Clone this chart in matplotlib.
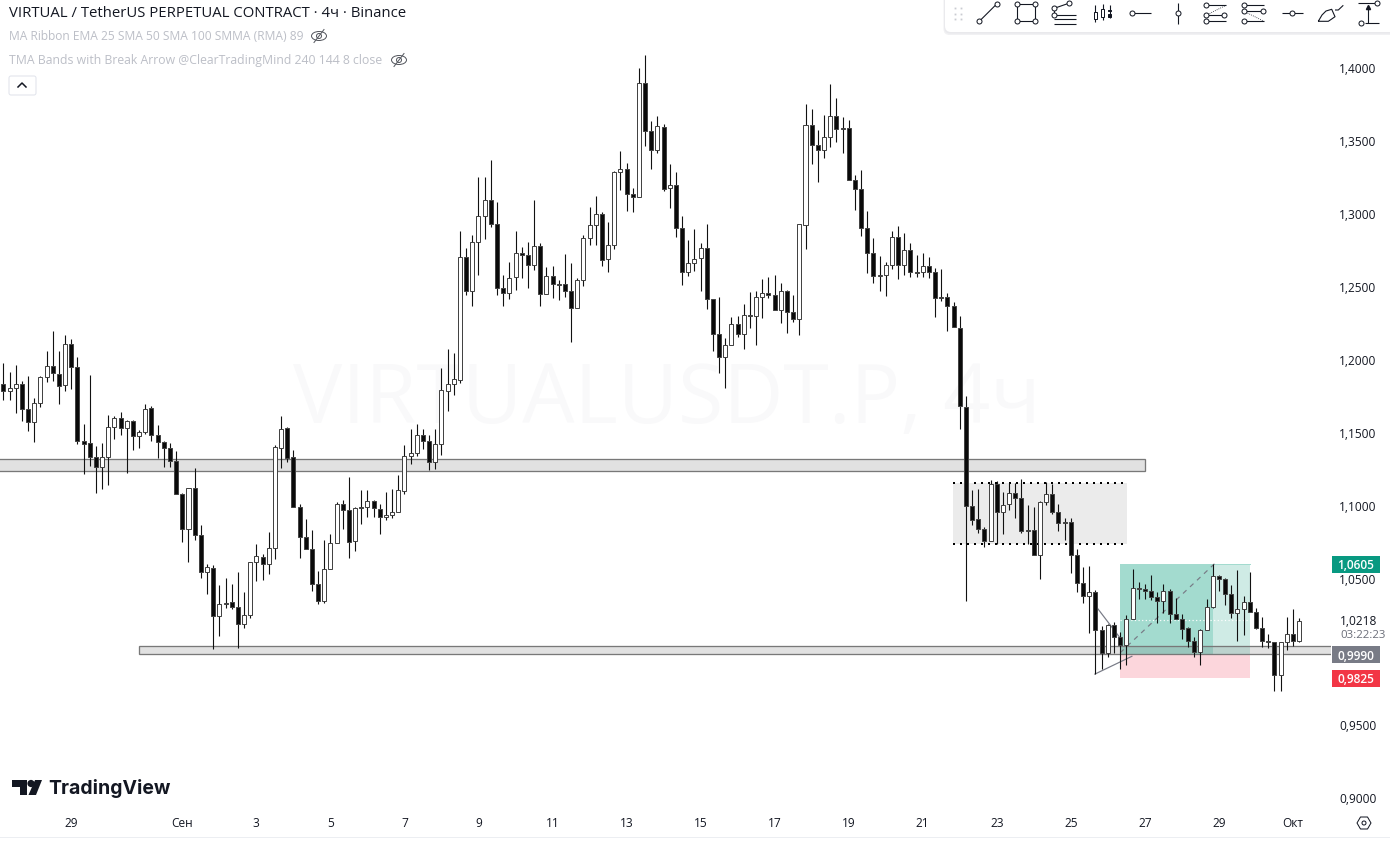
import matplotlib
matplotlib.use("Agg")
import matplotlib.pyplot as plt
from matplotlib.patches import Rectangle, FancyBboxPatch, Polygon, Circle, Ellipse
from matplotlib.transforms import blended_transform_factory

plt.rcParams['font.family'] = ['Open Sans', 'DejaVu Sans']

# ---- candle data (4h bars) ----
highs = [1.1979,1.1918,1.1966,1.1856,1.1890,1.1740,1.1890,1.2062,1.2199,1.2062,1.2171,1.2144,1.2021,1.1562,1.1897,1.1411,1.1432,1.1623,1.1616,1.1644,
 1.1589,1.1589,1.1521,1.1699,1.1685,1.1555,1.1445,1.1432,1.1377,1.1089,1.1123,1.1260,1.0870,1.0603,1.0596,1.0459,1.0507,1.0466,1.0548,1.0411,
 1.0616,1.0740,1.0671,1.0822,1.1418,1.1616,1.1541,1.1384,1.1014,1.0911,1.0836,1.0555,1.0767,1.0808,1.1027,1.1041,1.1199,1.0993,1.1110,1.1110,
 1.1041,1.1014,1.1096,1.1116,1.1212,1.1418,1.1527,1.1562,1.1527,1.1486,1.1527,1.1945,1.2075,1.2048,1.2884,1.2767,1.2856,1.3253,1.3253,1.3370,
 1.3082,1.2582,1.2671,1.2884,1.2774,1.2808,1.3096,1.2801,1.2637,1.2644,1.2548,1.2726,1.2664,1.2562,1.2856,1.3048,1.3123,1.3014,1.2945,1.3295,
 1.3432,1.3349,1.3178,1.4000,1.4089,1.3637,1.3671,1.3616,1.3342,1.3288,1.2986,1.2822,1.2897,1.2801,1.2932,1.2418,1.2432,1.2151,1.2295,1.2301,
 1.2384,1.2466,1.2473,1.2555,1.2568,1.2582,1.2527,1.2479,1.2445,1.2932,1.3753,1.3719,1.3575,1.3678,1.3890,1.3795,1.3664,1.3644,1.3267,1.3301,
 1.3021,1.2836,1.2712,1.2671,1.2884,1.2918,1.2870,1.2801,1.2719,1.2733,1.2705,1.2630,1.2623,1.2459,1.2397,1.2301,1.1753,1.1110,1.1116,1.0856,
 1.1178,1.1171,1.1096,1.1158,1.1158,1.1185,1.1007,1.0993,1.1034,1.1164,1.1151,1.1014,1.0918,1.0918,1.0705,1.0582,1.0589,1.0425,1.0178,1.0192,
 1.0205,1.0137,1.0253,1.0568,1.0479,1.0466,1.0527,1.0411,1.0466,1.0432,1.0370,1.0260,1.0171,1.0103,1.0158,1.0363,1.0603,1.0527,1.0507,1.0459,
 1.0562,1.0384,1.0548,1.0301,1.0240,1.0123,1.0068,1.0068,1.0240,1.0295,1.0233]
lows = [1.1726,1.1726,1.1637,1.1582,1.1514,1.1438,1.1678,1.1849,1.1856,1.1699,1.1788,1.1801,1.1425,1.1219,1.1274,1.1089,1.1116,1.1144,1.1459,1.1486,
 1.1226,1.1384,1.1397,1.1493,1.1445,1.1329,1.1267,1.1267,1.1082,1.0753,1.0616,1.0767,1.0507,1.0397,1.0021,1.0110,1.0301,1.0295,1.0027,1.0164,
 1.0233,1.0486,1.0493,1.0534,1.0637,1.1260,1.1301,1.0993,1.0644,1.0705,1.0418,1.0329,1.0336,1.0568,1.0747,1.0843,1.0644,1.0692,1.0877,1.0925,
 1.0925,1.0808,1.0904,1.0918,1.0959,1.1082,1.1288,1.1342,1.1390,1.1247,1.1253,1.1349,1.1651,1.1760,1.1842,1.2445,1.2370,1.2582,1.2829,1.2911,
 1.2445,1.2370,1.2418,1.2479,1.2562,1.2493,1.2616,1.2370,1.2452,1.2425,1.2411,1.2432,1.2123,1.2356,1.2507,1.2788,1.2788,1.2644,1.2603,1.2760,
 1.3164,1.3021,1.3014,1.3116,1.3466,1.3308,1.3418,1.3158,1.3041,1.2842,1.2514,1.2575,1.2610,1.2473,1.2349,1.2062,1.1911,1.1808,1.2103,1.2158,
 1.2075,1.2219,1.2103,1.2288,1.2425,1.2342,1.2253,1.2185,1.2260,1.2171,1.2760,1.3342,1.3219,1.3384,1.3459,1.3493,1.3418,1.3233,1.3027,1.2849,
 1.2596,1.2527,1.2473,1.2438,1.2623,1.2555,1.2582,1.2568,1.2568,1.2568,1.2562,1.2295,1.2404,1.2199,1.2226,1.1527,1.0349,1.0870,1.0815,1.0719,
 1.0760,1.0740,1.0808,1.0973,1.0918,1.0815,1.0740,1.0664,1.0500,1.1007,1.0945,1.0829,1.0767,1.0541,1.0411,1.0336,1.0130,0.9849,0.9884,0.9966,
 0.9993,0.9884,0.9911,1.0226,1.0363,1.0363,1.0356,1.0199,1.0267,1.0199,1.0226,1.0089,1.0034,0.9966,0.9911,1.0151,1.0301,1.0418,1.0322,1.0233,
 1.0075,1.0116,1.0274,1.0158,1.0034,1.0027,0.9733,0.9733,1.0014,1.0041,1.0068]
opens = [1.1836,1.1788,1.1808,1.1836,1.1664,1.1575,1.1705,1.1884,1.1959,1.1904,1.1829,1.2110,1.1952,1.1445,1.1432,1.1336,1.1267,1.1336,1.1541,1.1603,
 1.1534,1.1582,1.1479,1.1507,1.1671,1.1486,1.1438,1.1397,1.1308,1.1082,1.0843,1.1123,1.0801,1.0548,1.0575,1.0247,1.0339,1.0342,1.0308,1.0192,
 1.0253,1.0616,1.0651,1.0603,1.0712,1.1397,1.1534,1.1336,1.0993,1.0788,1.0705,1.0466,1.0349,1.0568,1.0747,1.1014,1.0973,1.0760,1.0993,1.0993,
 1.1034,1.0979,1.0925,1.0938,1.0959,1.1103,1.1342,1.1363,1.1486,1.1445,1.1301,1.1425,1.1788,1.1836,1.1863,1.2705,1.2473,1.2808,1.2986,1.3096,
 1.2932,1.2493,1.2459,1.2568,1.2733,1.2719,1.2651,1.2781,1.2452,1.2575,1.2521,1.2521,1.2473,1.2356,1.2548,1.2836,1.2925,1.3000,1.2692,1.2788,
 1.3288,1.3308,1.3137,1.3116,1.3897,1.3568,1.3438,1.3596,1.3178,1.3199,1.2904,1.2603,1.2664,1.2699,1.2767,1.2418,1.2178,1.2021,1.2103,1.2247,
 1.2178,1.2308,1.2301,1.2432,1.2459,1.2445,1.2342,1.2473,1.2329,1.2281,1.2925,1.3610,1.3473,1.3438,1.3527,1.3671,1.3589,1.3589,1.3233,1.3171,
 1.2904,1.2733,1.2575,1.2582,1.2651,1.2842,1.2651,1.2753,1.2603,1.2603,1.2644,1.2603,1.2432,1.2432,1.2370,1.2219,1.1678,1.1000,1.0911,1.0843,
 1.0760,1.1151,1.0959,1.1014,1.1089,1.1055,1.0836,1.0836,1.0664,1.1027,1.1082,1.0959,1.0890,1.0890,1.0664,1.0473,1.0384,1.0411,1.0151,0.9993,
 1.0185,1.0103,1.0048,1.0226,1.0438,1.0432,1.0418,1.0377,1.0349,1.0418,1.0260,1.0226,1.0164,1.0075,1.0000,1.0151,1.0308,1.0521,1.0500,1.0397,
 1.0267,1.0295,1.0342,1.0274,1.0164,1.0075,1.0068,0.9842,1.0068,1.0123,1.0075]
closes = [1.1788,1.1808,1.1836,1.1664,1.1575,1.1705,1.1884,1.1959,1.1911,1.1822,1.2110,1.1952,1.1445,1.1425,1.1336,1.1267,1.1336,1.1541,1.1603,1.1534,
 1.1582,1.1479,1.1507,1.1664,1.1486,1.1438,1.1397,1.1308,1.1082,1.0843,1.1123,1.0801,1.0548,1.0582,1.0247,1.0329,1.0332,1.0308,1.0192,1.0253,
 1.0616,1.0658,1.0603,1.0712,1.1404,1.1527,1.1329,1.0993,1.0788,1.0705,1.0466,1.0349,1.0568,1.0747,1.1014,1.0973,1.0753,1.0986,1.0986,1.1034,
 1.0986,1.0925,1.0938,1.0959,1.1110,1.1342,1.1363,1.1486,1.1445,1.1301,1.1425,1.1795,1.1836,1.1870,1.2705,1.2473,1.2808,1.2986,1.3096,1.2932,
 1.2493,1.2459,1.2562,1.2733,1.2719,1.2651,1.2781,1.2452,1.2575,1.2521,1.2514,1.2473,1.2356,1.2548,1.2836,1.2925,1.3000,1.2685,1.2788,1.3288,
 1.3308,1.3137,1.3116,1.3897,1.3568,1.3438,1.3603,1.3171,1.3199,1.2904,1.2603,1.2664,1.2692,1.2767,1.2418,1.2178,1.2021,1.2103,1.2247,1.2178,
 1.2308,1.2301,1.2432,1.2459,1.2445,1.2342,1.2473,1.2329,1.2281,1.2932,1.3610,1.3473,1.3438,1.3527,1.3671,1.3582,1.3582,1.3233,1.3171,1.2904,
 1.2733,1.2575,1.2582,1.2651,1.2842,1.2651,1.2753,1.2603,1.2596,1.2644,1.2603,1.2425,1.2425,1.2370,1.2226,1.1685,1.1000,1.0904,1.0843,1.0760,
 1.1151,1.0959,1.1007,1.1089,1.1055,1.0829,1.0829,1.0664,1.1027,1.1082,1.0959,1.0884,1.0884,1.0664,1.0473,1.0384,1.0411,1.0151,0.9993,1.0185,
 1.0103,1.0048,1.0226,1.0438,1.0432,1.0418,1.0377,1.0349,1.0418,1.0260,1.0226,1.0158,1.0075,1.0000,1.0151,1.0308,1.0521,1.0500,1.0397,1.0267,
 1.0295,1.0342,1.0274,1.0164,1.0075,1.0068,0.9842,1.0068,1.0123,1.0075,1.0212]

# ---- axis labels ----
price_ticks = [1.40, 1.35, 1.30, 1.25, 1.20, 1.15, 1.10, 1.05, 0.95, 0.90]
price_labels = ['1,4000', '1,3500', '1,3000', '1,2500', '1,2000', '1,1500', '1,1000', '1,0500', '0,9500', '0,9000']
date_ticks = [11, 29, 41, 53, 65, 77, 89, 101, 113, 125, 137, 149, 161, 173, 185, 197, 209]
date_labels = ['29', 'Сен', '3', '5', '7', '9', '11', '13', '15', '17', '19', '21', '23', '25', '27', '29', 'Окт']

# ---- drawings ----
zone_upper = (-1, 185, 1.1240, 1.1322)
zone_lower = (22, 216, 0.9986, 1.0041)
range_box = (153.9, 182.1, 1.0740, 1.1158)
target, entry, stop, last_price = 1.0605, 0.9990, 0.9825, 1.0218
pos_start, pos_now, pos_end = 181, 196, 202

W, H = 1390, 841
AX_R, AX_B = 1331, 809
fig = plt.figure(figsize=(W / 100, H / 100), dpi=100, facecolor='white')
ax = fig.add_axes([0, 1 - AX_B / H, AX_R / W, AX_B / H])
ax.set_xlim(-0.551, 215.17)
ax.set_ylim(0.8925, 1.4466)
px = 0.72  # one pixel in points

for s in ax.spines.values():
    s.set_visible(False)
ax.yaxis.tick_right()
ax.set_yticks(price_ticks, price_labels)
ax.set_xticks(date_ticks, date_labels)
ax.tick_params(axis='y', length=0, pad=5.8, labelsize=8.6, labelcolor='#131722')
ax.tick_params(axis='x', length=0, pad=5.5, labelsize=8.6, labelcolor='#131722')
for lab in ax.get_yticklabels():
    lab.set_va('center_baseline')

# watermark
ax.text(107.5, 1.1712, 'VIRTUALUSDT.P, 4ч', ha='center', va='center', fontsize=59.5, color='#f9f9fa', zorder=0)

# range box
ax.add_patch(Rectangle((range_box[0], range_box[2]), range_box[1] - range_box[0], range_box[3] - range_box[2],
                       fc='#ebebeb', ec='none', zorder=1))
for y in range_box[2:]:
    ax.plot(range_box[:2], [y, y], color='black', lw=2 * px, ls=(0, (1, 2.5)), zorder=1.5)

# position tool
ax.add_patch(Rectangle((pos_start, entry), pos_now - pos_start, target - entry, fc='#a3dbcf', ec='none', zorder=1))
ax.add_patch(Rectangle((pos_now, entry), pos_end - pos_now, target - entry, fc='#cfebe5', ec='none', zorder=1))
ax.add_patch(Rectangle((pos_start, stop), pos_end - pos_start, entry - stop, fc='#fcd6dc', ec='none', zorder=1))
ax.plot([pos_start, pos_end], [last_price, last_price], color='white', lw=px * 1.2, ls=(0, (1, 2)), zorder=1.6)
ax.plot([pos_start, pos_now + 0.3], [entry + 0.0005, target], color='#787b86', lw=px * 1.2, ls=(0, (4, 4)), zorder=1.7)
ax.plot([pos_start, pos_end], [target, target], color='#a3dbcf', lw=px, zorder=1.2)

# support / resistance zones
for x0, x1, y0, y1 in (zone_upper, zone_lower):
    ax.add_patch(Rectangle((x0, y0), x1 - x0, y1 - y0, fc=(0.47, 0.47, 0.47, 0.215), ec='#787878', lw=px * 1.3, zorder=2,
                           clip_on=True))

# hand-drawn lines around the low
ax.plot([176.9, 182.9], [0.9849, 0.9971], color='#787b86', lw=px * 1.2, zorder=2.2)
ax.plot([177.3, 181], [1.0301, 1.0096], color='#787b86', lw=px * 1.2, zorder=2.2)

# candles
xs = list(range(len(opens)))
ax.vlines(xs, lows, highs, color='#111111', lw=px * 1.1, zorder=3)
for x, o, c in zip(xs, opens, closes):
    up = c > o
    bottom, height = min(o, c), abs(c - o)
    ax.add_patch(Rectangle((x - 0.325, bottom), 0.65, height, fc='white' if up else '#0a0a0a', ec='#434343',
                           lw=px, zorder=4))

# price tags
tr = blended_transform_factory(ax.transAxes, ax.transData)
dx = 1 / AX_R
for price, color, label, off in ((target, '#089981', '1,0605', -0.0005),
                                 (entry, '#787b86', '0,9990', -0.0010),
                                 (stop, '#f23645', '0,9825', -0.0006)):
    ax.add_patch(FancyBboxPatch((1 + dx, price + off - 0.0058), 48 * dx, 0.0116, boxstyle='square,pad=0',
                                fc=color, ec='none', transform=tr, clip_on=False, zorder=6))
    ax.text(1 + 25 * dx, price + off, label, transform=tr, ha='center', va='center_baseline', color='white',
            fontsize=8.6, fontweight='semibold', clip_on=False, zorder=7)
ax.text(1 + 9 * dx, last_price, '1,0218', transform=tr, ha='left', va='center_baseline', fontsize=8.6, color='#131722')
ax.text(1 + 9 * dx, last_price - 0.0095, '03:22:23', transform=tr, ha='left', va='center_baseline', fontsize=8.2, color='#6a6d78')

# ---- interface overlay in pixel coordinates ----
ui = fig.add_axes([0, 0, 1, 1], facecolor='none')
ui.set_xlim(0, W)
ui.set_ylim(H, 0)
ui.axis('off')
ui.set_zorder(10)

ui.plot([0, W], [837, 837], color='#eceef2', lw=px)
ui.text(9, 13, 'VIRTUAL / TetherUS PERPETUAL CONTRACT · 4ч · Binance', fontsize=10.75, color='#131722', va='center')
ui.text(9, 36, 'MA Ribbon EMA 25 SMA 50 SMA 100 SMMA (RMA) 89', fontsize=8.65, color='#bcbfc7', va='center')
ui.text(9, 60, 'TMA Bands with Break Arrow @ClearTradingMind 240 144 8 close', fontsize=8.85, color='#bcbfc7', va='center')


def eye(cx, cy):
    ui.add_patch(Ellipse((cx, cy), 15, 9, fc='none', ec='#55585f', lw=px))
    ui.add_patch(Circle((cx, cy), 2.5, fc='none', ec='#55585f', lw=px))
    ui.plot([cx - 5, cx + 5], [cy + 6.5, cy - 6.5], color='#55585f', lw=px)


eye(319, 36)
eye(399, 60)
ui.add_patch(FancyBboxPatch((9, 76), 27, 19, boxstyle='round,pad=0,rounding_size=2', fc='white', ec='#e0e3eb', lw=px))
ui.plot([18, 22, 26], [87, 83, 87], color='#131722', lw=1.1)

# TradingView logo
ui.add_patch(Polygon([(12, 780), (27, 780), (27, 795), (20, 795), (20, 787), (12, 787)], fc='#131722', ec='none'))
ui.add_patch(Circle((31, 783.5), 3.6, fc='#131722', ec='none'))
ui.add_patch(Polygon([(35, 780), (42, 780), (36, 795), (28.5, 795)], fc='#131722', ec='none'))
ui.text(48, 788, 'TradingView', fontsize=14, fontweight='bold', color='#131722', va='center', family=['Inter', 'DejaVu Sans'])

# gear
ui.add_patch(Polygon([(1357, 823), (1360.5, 817), (1367.5, 817), (1371, 823), (1367.5, 829), (1360.5, 829)],
                     fc='white', ec='#131722', lw=px))
ui.add_patch(Circle((1364, 823), 2, fc='none', ec='#131722', lw=px))

# toolbar
for off, c in ((3, '#f1f1f3'), (1.5, '#e9e9ec')):
    ui.add_patch(FancyBboxPatch((945 - off / 2, -10), 460, 42 + off, boxstyle='round,pad=0,rounding_size=6', fc=c, ec='none'))
ui.add_patch(FancyBboxPatch((945, -10), 460, 42, boxstyle='round,pad=0,rounding_size=6', fc='white', ec='none'))
ic = '#131722'


def seg(xs_, ys_, **kw):
    ui.plot(xs_, ys_, color=ic, lw=kw.pop('lw', px * 1.1), solid_capstyle='butt', **kw)


def dot(x, y):
    ui.plot([x], [y], marker='o', ms=3.6, mfc='white', mec=ic, mew=px, zorder=5)


for gx in (955, 961):
    for gy in (8, 13.5, 19):
        ui.plot([gx], [gy], marker='s', ms=1.3, mfc='#c9cbd2', mec='none')
seg([979.3, 996.7], [21.3, 4]); dot(979.3, 21.3); dot(996.7, 4)
seg([1017.3, 1034.7, 1034.7, 1017.3, 1017.3], [4, 4, 21.3, 21.3, 4])
for a, b in ((1017.3, 4), (1034.7, 4), (1017.3, 21.3), (1034.7, 21.3)):
    dot(a, b)
seg([1054.3, 1068.7], [8.3, 3.3]); seg([1054.3, 1054.3], [8.3, 15.3])
for y in (15.3, 19.3, 23.7):
    seg([1054.3, 1076], [y, y])
dot(1054.3, 8.3); dot(1068.7, 3.3); dot(1054.3, 15.3)
seg([1095.3, 1095.3], [5, 21.7]); seg([1102.7, 1102.7], [4.3, 20]); seg([1109.7, 1109.7], [5, 18])
ui.add_patch(Rectangle((1093.8, 11.7), 3, 7.3, fc='white', ec=ic, lw=px, zorder=4))
ui.add_patch(Rectangle((1101.2, 9.3), 3, 8, fc='white', ec=ic, lw=px, zorder=4))
ui.add_patch(Rectangle((1108.2, 9.5), 3, 1.5, fc=ic, ec=ic, lw=px, zorder=4))
ui.add_patch(Rectangle((1108.2, 14), 3, 2.5, fc=ic, ec=ic, lw=px, zorder=4))
seg([1132.3, 1151], [13.3, 13.3]); dot(1132.3, 13.3)
seg([1178.3, 1178.3], [3.3, 24]); dot(1178.3, 13.3)
for y in (5.3, 15.3, 21.3):
    seg([1206, 1226], [y, y])
seg([1206, 1226], [15.3, 5.3], lw=px * 0.8, ls=(0, (1, 1.5)))
dot(1206, 5.3); dot(1206, 15.3); dot(1224, 15.3); dot(1206, 21.3)
for y in (5.3, 11.3, 21.3):
    seg([1244, 1264], [y, y])
seg([1244, 1264], [11.3, 21.3], lw=px * 0.8, ls=(0, (1, 1.5)))
dot(1244.3, 5.3); dot(1244.3, 11.3); dot(1262.7, 11.3); dot(1244.3, 21.3)
seg([1282, 1303], [13.3, 13.3]); dot(1292.3, 13.3)
seg([1318.3, 1322, 1326, 1331.7, 1335, 1331, 1328.3, 1318.3], [21.3, 15, 11, 9.3, 16.7, 19.5, 21.3, 21.3])
seg([1335, 1338.3, 1343.3], [10, 10, 5.3])
seg([1358, 1375], [3.3, 3.3]); seg([1365, 1379], [23.3, 23.3]); seg([1368.3, 1368.3], [23.3, 6])
ui.plot([1368.3], [6.5], marker='^', ms=3, mfc=ic, mec=ic)
dot(1376.7, 3.3); dot(1360.7, 23.3)

fig.savefig('out.png', dpi=100)
